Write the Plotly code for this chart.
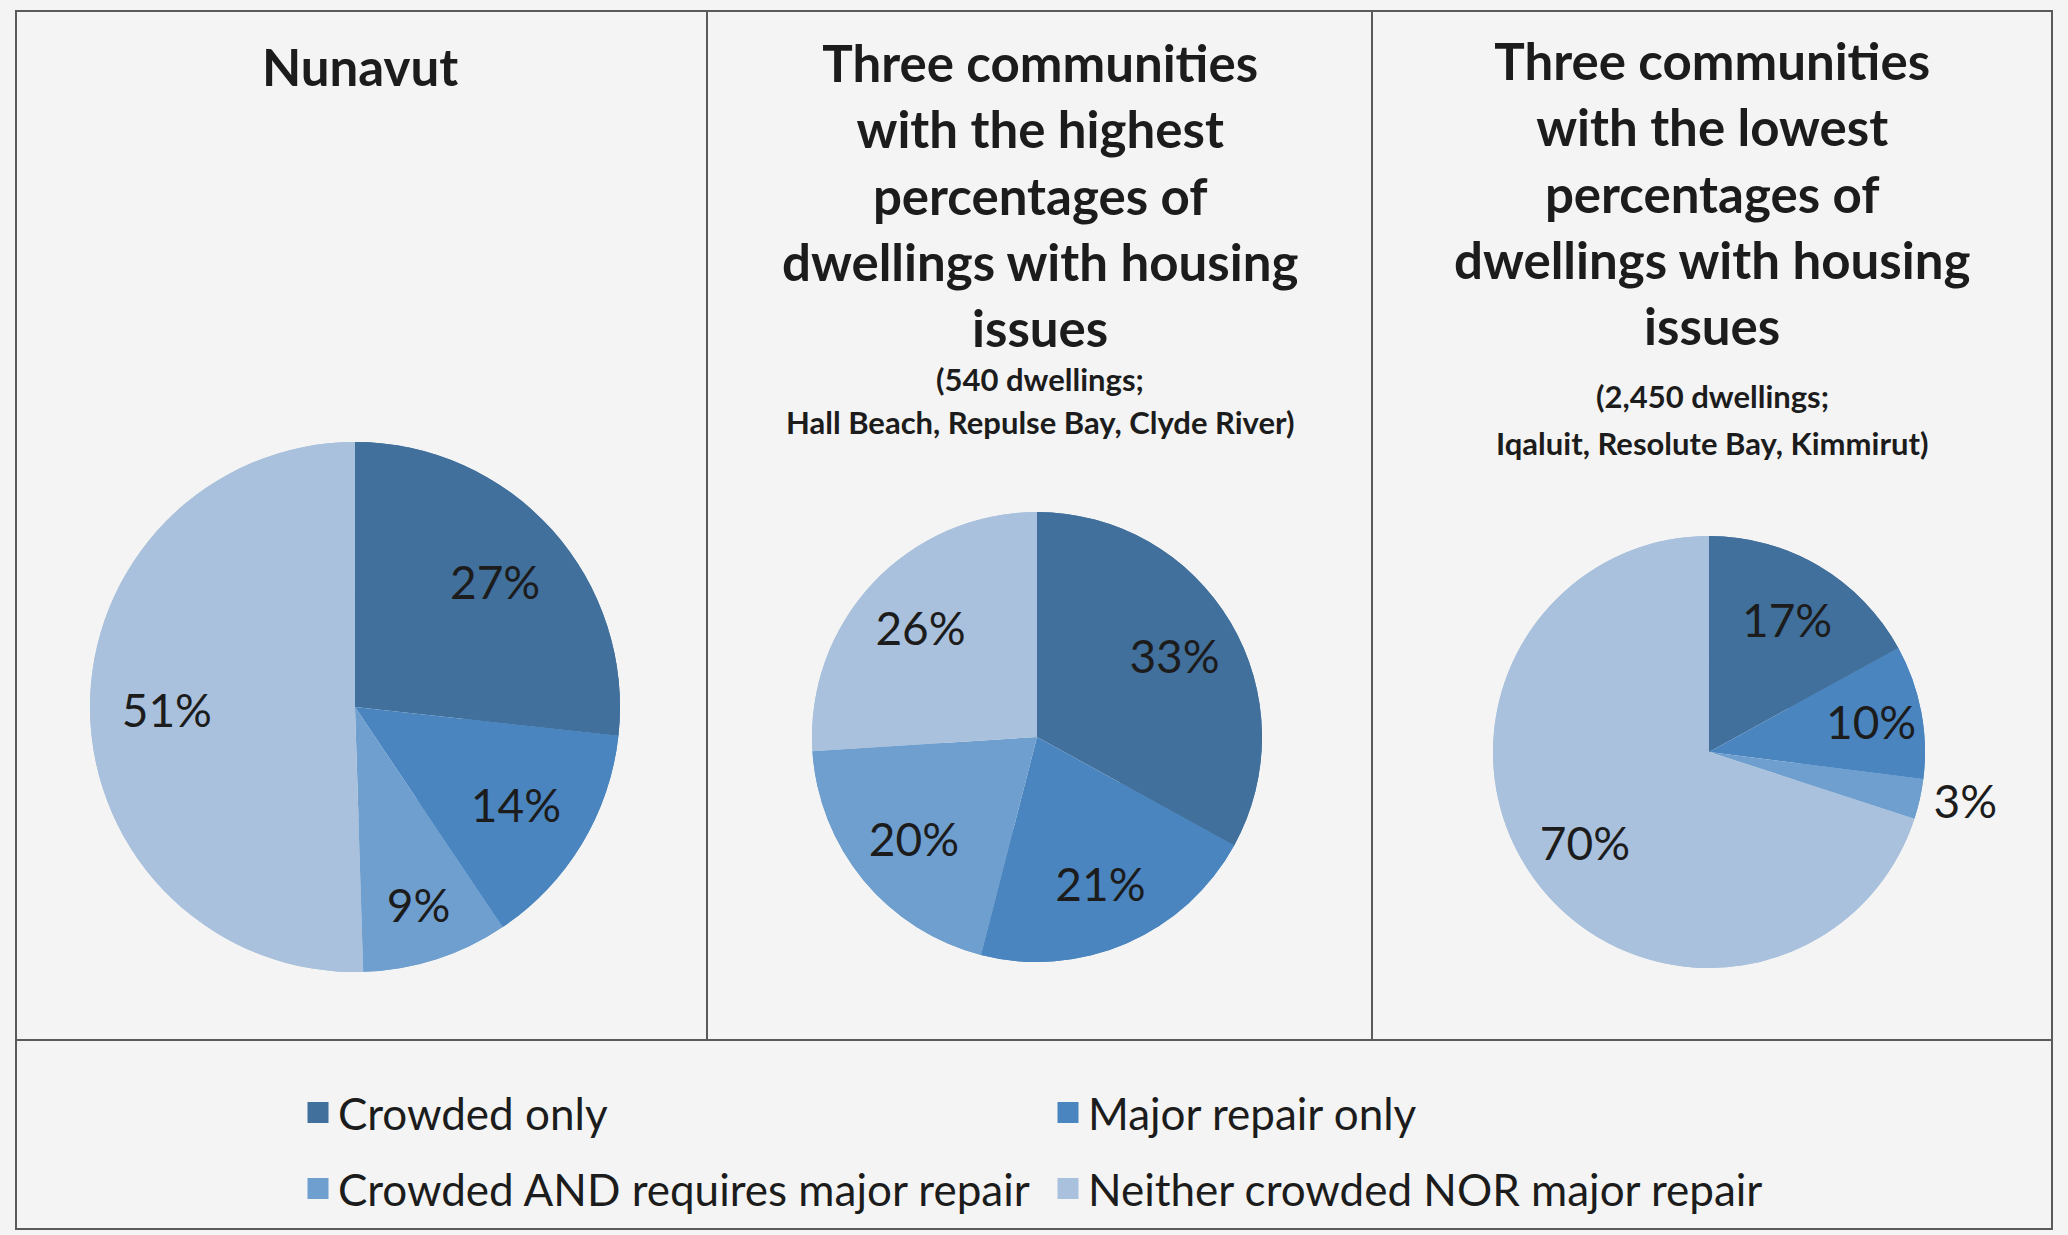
import plotly.graph_objects as go

W, H = 2068, 1235

# ---- data ----
categories = [
    "Crowded only",
    "Major repair only",
    "Crowded AND requires major repair",
    "Neither crowded NOR major repair",
]
nunavut_pct = [27, 14, 9, 51]
highest_pct = [33, 21, 20, 26]
lowest_pct = [17, 10, 3, 70]

panel_titles = [
    "Nunavut",
    "Three communities<br>with the highest<br>percentages of<br>dwellings with housing<br>issues",
    "Three communities<br>with the lowest<br>percentages of<br>dwellings with housing<br>issues",
]
panel_notes = [
    [],
    ["(540 dwellings;", "Hall Beach, Repulse Bay, Clyde River)"],
    ["(2,450 dwellings;", "Iqaluit, Resolute Bay, Kimmirut)"],
]

# ---- styling ----
colors = ["#41709c", "#4a85bf", "#6f9fcf", "#a9c1dc"]
BG = "#f4f4f4"
INK = "#1c1c1c"
FRAME = "#5a5a5a"
FONT = "Lato"
LABEL_RING_HOLE = 0.42  # pushes the horizontal percentage labels out to ~0.7 r


def px_x(x):
    return x / W


def px_y(y):
    return 1 - y / H


def pie_domain(cx, cy, r):
    return dict(x=[px_x(cx - r), px_x(cx + r)], y=[px_y(cy + r), px_y(cy - r)])


fig = go.Figure()

pies = [
    (nunavut_pct, (355, 707, 265), ["inside"] * 4),
    (highest_pct, (1037, 737, 225), ["inside"] * 4),
    (lowest_pct, (1709, 752, 216), ["inside", "inside", "outside", "inside"]),
]
for vals, (cx, cy, r), tpos in pies:
    common = dict(
        labels=categories,
        values=vals,
        sort=False,
        direction="clockwise",
        rotation=0,
        domain=pie_domain(cx, cy, r),
        marker=dict(colors=colors, line=dict(width=0)),
        showlegend=False,
    )
    # solid disc underneath
    fig.add_trace(go.Pie(**common, textinfo="none", hoverinfo="skip"))
    # identical ring on top that carries the percentage labels
    fig.add_trace(go.Pie(
        **common,
        hole=LABEL_RING_HOLE,
        texttemplate="%{value}%",
        textposition=tpos,
        insidetextorientation="horizontal",
        textfont=dict(family=FONT, size=46, color=INK),
        hoverinfo="label+value",
    ))

# ---- legend: one small legend per entry so the 2x2 grid is placed exactly ----
legend_slots = [(298, 1113), (1048, 1113), (298, 1189), (1048, 1189)]
for i, (name, col) in enumerate(zip(categories, colors)):
    lid = "legend" if i == 0 else f"legend{i + 1}"
    fig.add_trace(go.Scatter(
        x=[None], y=[None], mode="markers", name=name,
        marker=dict(symbol="square", size=16, color=col, line=dict(color=col, width=5)),
        legend=lid, showlegend=True, hoverinfo="skip",
    ))

legend_layouts = {}
for i, (lx, ly) in enumerate(legend_slots):
    lid = "legend" if i == 0 else f"legend{i + 1}"
    legend_layouts[lid] = dict(
        x=px_x(lx), y=px_y(ly), xanchor="left", yanchor="middle",
        orientation="h", bgcolor="rgba(0,0,0,0)", borderwidth=0,
        font=dict(family=FONT, size=44, color=INK),
    )

# ---- panel titles ----
annotations = []
title_pos = [(360, 66), (1040, 195), (1712, 193)]
for text, (tx, ty) in zip(panel_titles, title_pos):
    annotations.append(dict(
        text=f"<b>{text}</b>", x=px_x(tx), y=px_y(ty), xref="paper", yref="paper",
        xanchor="center", yanchor="middle", showarrow=False, align="center",
        font=dict(family=FONT, size=51, color=INK),
    ))
note_pos = [[], [379, 422], [396, 443]]
for p, (lines, ys) in enumerate(zip(panel_notes, note_pos)):
    for line, ny in zip(lines, ys):
        annotations.append(dict(
            text=f"<b>{line}</b>", x=px_x(title_pos[p][0]), y=px_y(ny),
            xref="paper", yref="paper", xanchor="center", yanchor="middle",
            showarrow=False, font=dict(family=FONT, size=31, color=INK),
        ))

# ---- panel frame ----
L, T, R, B = 16, 11, 2052, 1229
MID = 1040
shapes = [
    dict(type="rect", x0=px_x(L), x1=px_x(R), y0=px_y(B), y1=px_y(T)),
    dict(type="line", x0=px_x(L), x1=px_x(R), y0=px_y(MID), y1=px_y(MID)),
    dict(type="line", x0=px_x(707), x1=px_x(707), y0=px_y(T), y1=px_y(MID)),
    dict(type="line", x0=px_x(1372), x1=px_x(1372), y0=px_y(T), y1=px_y(MID)),
]
for s in shapes:
    s.update(xref="paper", yref="paper", line=dict(color=FRAME, width=2), layer="below")

fig.update_layout(
    width=W, height=H,
    margin=dict(l=0, r=0, t=0, b=0),
    paper_bgcolor=BG, plot_bgcolor=BG,
    xaxis=dict(visible=False), yaxis=dict(visible=False),
    uniformtext=dict(minsize=46, mode="show"),
    annotations=annotations,
    shapes=shapes,
    **legend_layouts,
)

fig.write_html("out.html")
